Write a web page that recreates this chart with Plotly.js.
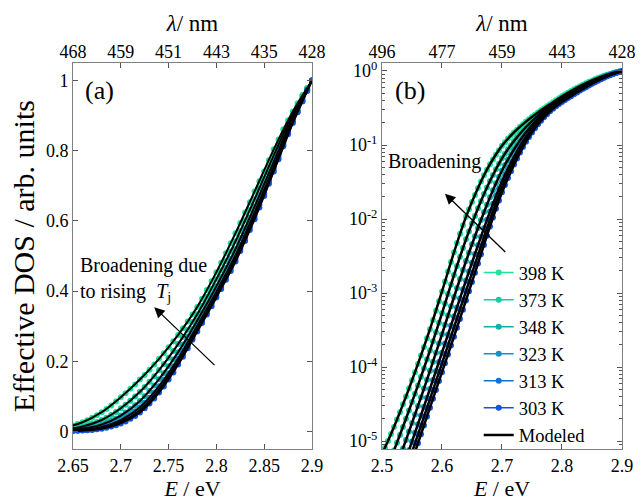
<!DOCTYPE html>
<html><head><meta charset="utf-8">
<script src="https://cdn.plot.ly/plotly-3.0.1.min.js"></script>
<style>html,body{margin:0;padding:0;background:#fff}#chart{width:640px;height:504px}</style>
</head><body><div id="chart"></div>
<script>
// ---- data ----
const energy = [2.500,2.505,2.510,2.515,2.520,2.525,2.530,2.535,2.540,2.545,
2.550,2.555,2.560,2.565,2.570,2.575,2.580,2.585,2.590,2.595,
2.600,2.605,2.610,2.615,2.620,2.625,2.630,2.635,2.640,2.645,
2.650,2.655,2.660,2.665,2.670,2.675,2.680,2.685,2.690,2.695,
2.700,2.705,2.710,2.715,2.720,2.725,2.730,2.735,2.740,2.745,
2.750,2.755,2.760,2.765,2.770,2.775,2.780,2.785,2.790,2.795,
2.800,2.805,2.810,2.815,2.820,2.825,2.830,2.835,2.840,2.845,
2.850,2.855,2.860,2.865,2.870,2.875,2.880,2.885,2.890,2.895,
2.900];

const dos398 = [6.61e-6,8.13e-6,1.00e-5,1.24e-5,1.55e-5,1.95e-5,2.45e-5,3.13e-5,3.98e-5,5.13e-5,
6.61e-5,8.51e-5,1.10e-4,1.43e-4,1.86e-4,2.45e-4,3.24e-4,4.32e-4,5.75e-4,7.76e-4,
1.05e-3,1.43e-3,1.95e-3,2.63e-3,3.55e-3,4.73e-3,6.31e-3,8.22e-3,1.07e-2,1.35e-2,
1.70e-2,2.11e-2,2.63e-2,3.20e-2,3.89e-2,4.62e-2,5.50e-2,6.38e-2,7.41e-2,8.51e-2,
9.77e-2,0.109,0.122,0.134,0.148,0.161,0.176,0.191,0.207,0.223,
0.240,0.257,0.275,0.294,0.313,0.333,0.355,0.378,0.403,0.428,
0.454,0.481,0.508,0.536,0.565,0.594,0.624,0.653,0.684,0.713,
0.741,0.773,0.804,0.832,0.861,0.887,0.912,0.935,0.959,0.979,
1.000];

const dos373 = [null,null,null,5.89e-6,7.43e-6,9.48e-6,1.21e-5,1.55e-5,2.00e-5,2.59e-5,
3.36e-5,4.35e-5,5.64e-5,7.36e-5,9.64e-5,1.27e-4,1.67e-4,2.22e-4,2.96e-4,3.96e-4,
5.32e-4,7.19e-4,9.72e-4,1.30e-3,1.75e-3,2.32e-3,3.08e-3,4.05e-3,5.31e-3,6.79e-3,
8.67e-3,1.10e-2,1.40e-2,1.74e-2,2.17e-2,2.66e-2,3.26e-2,3.92e-2,4.71e-2,5.57e-2,
6.61e-2,7.60e-2,8.75e-2,9.95e-2,0.113,0.127,0.142,0.157,0.175,0.192,
0.210,0.229,0.249,0.269,0.290,0.312,0.334,0.358,0.383,0.407,
0.434,0.459,0.486,0.513,0.542,0.571,0.601,0.631,0.662,0.692,
0.721,0.753,0.787,0.817,0.847,0.877,0.904,0.929,0.955,0.977,
1.000];

const dos348 = [null,null,null,null,null,null,6.11e-6,7.93e-6,1.03e-5,1.34e-5,
1.75e-5,2.28e-5,2.97e-5,3.90e-5,5.11e-5,6.73e-5,8.87e-5,1.18e-4,1.56e-4,2.08e-4,
2.77e-4,3.71e-4,4.97e-4,6.62e-4,8.83e-4,1.17e-3,1.55e-3,2.05e-3,2.70e-3,3.50e-3,
4.55e-3,5.86e-3,7.57e-3,9.68e-3,1.24e-2,1.56e-2,1.97e-2,2.45e-2,3.04e-2,3.72e-2,
4.53e-2,5.38e-2,6.37e-2,7.46e-2,8.69e-2,0.100,0.115,0.131,0.149,0.166,
0.186,0.205,0.226,0.248,0.270,0.292,0.316,0.340,0.365,0.389,
0.414,0.440,0.466,0.492,0.520,0.551,0.579,0.610,0.641,0.673,
0.703,0.736,0.769,0.802,0.836,0.865,0.895,0.923,0.948,0.975,
1.000];

const dos323 = [null,null,null,null,null,null,null,null,5.70e-6,7.48e-6,
9.82e-6,1.29e-5,1.69e-5,2.22e-5,2.91e-5,3.84e-5,5.06e-5,6.70e-5,8.85e-5,1.17e-4,
1.56e-4,2.07e-4,2.75e-4,3.64e-4,4.83e-4,6.38e-4,8.43e-4,1.12e-3,1.48e-3,1.95e-3,
2.56e-3,3.37e-3,4.42e-3,5.75e-3,7.52e-3,9.75e-3,1.26e-2,1.61e-2,2.07e-2,2.59e-2,
3.24e-2,3.95e-2,4.81e-2,5.78e-2,6.90e-2,8.17e-2,9.62e-2,0.111,0.129,0.147,
0.166,0.186,0.208,0.230,0.254,0.277,0.301,0.324,0.349,0.373,
0.398,0.424,0.449,0.475,0.502,0.532,0.561,0.592,0.624,0.656,
0.687,0.721,0.755,0.789,0.824,0.857,0.887,0.916,0.944,0.973,
1.000];

const dos313 = [null,null,null,null,null,null,null,null,null,5.38e-6,
7.08e-6,9.31e-6,1.22e-5,1.61e-5,2.12e-5,2.80e-5,3.69e-5,4.86e-5,6.43e-5,8.49e-5,
1.12e-4,1.49e-4,1.96e-4,2.59e-4,3.43e-4,4.53e-4,5.97e-4,7.94e-4,1.06e-3,1.40e-3,
1.86e-3,2.45e-3,3.25e-3,4.30e-3,5.66e-3,7.46e-3,9.82e-3,1.28e-2,1.66e-2,2.11e-2,
2.69e-2,3.33e-2,4.10e-2,5.00e-2,6.07e-2,7.26e-2,8.67e-2,0.102,0.119,0.136,
0.156,0.176,0.199,0.220,0.244,0.268,0.292,0.316,0.340,0.365,
0.389,0.414,0.440,0.466,0.492,0.522,0.552,0.582,0.614,0.646,
0.679,0.713,0.748,0.782,0.818,0.851,0.883,0.912,0.942,0.971,
1.000];

const dos303 = [null,null,null,null,null,null,null,null,null,null,
5.37e-6,7.08e-6,9.33e-6,1.23e-5,1.62e-5,2.14e-5,2.82e-5,3.72e-5,4.90e-5,6.46e-5,
8.51e-5,1.12e-4,1.48e-4,1.95e-4,2.57e-4,3.39e-4,4.47e-4,5.96e-4,7.94e-4,1.06e-3,
1.41e-3,1.88e-3,2.51e-3,3.35e-3,4.47e-3,5.96e-3,7.94e-3,1.05e-2,1.38e-2,1.78e-2,
2.29e-2,2.87e-2,3.59e-2,4.43e-2,5.43e-2,6.58e-2,7.94e-2,9.40e-2,0.111,0.128,
0.148,0.168,0.191,0.213,0.237,0.261,0.285,0.309,0.333,0.357,
0.382,0.406,0.432,0.457,0.484,0.514,0.543,0.574,0.605,0.638,
0.671,0.706,0.741,0.776,0.813,0.847,0.879,0.910,0.940,0.970,
1.000];

const energyModel = [2.50,2.52,2.54,2.56,2.58,2.60,2.62,2.64,2.66,2.68,2.70,
2.72,2.74,2.76,2.78,2.80,2.82,2.84,2.86,2.88,2.90];
const model398 = [6.61e-6,1.55e-5,3.98e-5,1.10e-4,3.24e-4,1.05e-3,3.55e-3,1.07e-2,2.63e-2,5.50e-2,9.77e-2,0.148,0.207,0.275,0.355,0.454,0.565,0.684,0.804,0.912,1];
const model373 = [null,7.43e-6,2.00e-5,5.64e-5,1.67e-4,5.32e-4,1.75e-3,5.31e-3,1.40e-2,3.26e-2,6.61e-2,0.113,0.175,0.249,0.334,0.434,0.542,0.662,0.787,0.904,1];
const model348 = [null,3.67e-6,1.03e-5,2.97e-5,8.87e-5,2.77e-4,8.83e-4,2.70e-3,7.57e-3,1.97e-2,4.53e-2,8.69e-2,0.149,0.226,0.316,0.414,0.520,0.641,0.769,0.895,1];
const model323 = [null,null,5.70e-6,1.69e-5,5.06e-5,1.56e-4,4.83e-4,1.48e-3,4.42e-3,1.26e-2,3.24e-2,6.90e-2,0.129,0.208,0.301,0.398,0.502,0.624,0.755,0.887,1];
const model313 = [null,null,4.09e-6,1.22e-5,3.69e-5,1.12e-4,3.43e-4,1.06e-3,3.25e-3,9.82e-3,2.69e-2,6.07e-2,0.119,0.199,0.292,0.389,0.492,0.614,0.748,0.883,1];
const model303 = [null,null,3.09e-6,9.33e-6,2.82e-5,8.51e-5,2.57e-4,7.94e-4,2.51e-3,7.94e-3,2.29e-2,5.43e-2,0.111,0.191,0.285,0.382,0.484,0.605,0.741,0.879,1];

const seriesNames = ['398 K','373 K','348 K','323 K','313 K','303 K'];
const modelName = 'Modeled';

const ticksEA = [2.65,2.7,2.75,2.8,2.85,2.9];
const tickTextEA = ['2.65','2.7','2.75','2.8','2.85','2.9'];
const tickTextLambdaA = ['468','459','451','443','435','428'];
const ticksEB = [2.5,2.6,2.7,2.8,2.9];
const tickTextEB = ['2.5','2.6','2.7','2.8','2.9'];
const tickTextLambdaB = ['496','477','459','443','428'];
const ticksYA = [0,0.2,0.4,0.6,0.8,1];
const tickTextYA = ['0','0.2','0.4','0.6','0.8','1'];
const ticksYB = [1e-5,1e-4,1e-3,1e-2,1e-1,1];
const tickTextYB = ['10<sup>-5</sup>','10<sup>-4</sup>','10<sup>-3</sup>','10<sup>-2</sup>','10<sup>-1</sup>','10<sup>0</sup>'];

// ---- style ----
const measured = [dos398,dos373,dos348,dos323,dos313,dos303];
const modeled = [model398,model373,model348,model323,model313,model303];
const colors = ['#1fe39a','#14cda2','#12b0aa','#1591c2','#1672d2','#1553e2'];
const FONT = 'Liberation Serif';

const traces = [];
measured.forEach((ys,k)=>{
  traces.push({x:energy,y:ys,xaxis:'x',yaxis:'y',mode:'lines+markers',
    line:{color:colors[k],width:1.5},marker:{color:colors[k],size:6},
    showlegend:false,hoverinfo:'skip',cliponaxis:true});
});
measured.forEach((ys,k)=>{
  traces.push({x:energy,y:ys,xaxis:'x2',yaxis:'y2',mode:'lines+markers',name:seriesNames[k],
    line:{color:colors[k],width:1.5},marker:{color:colors[k],size:6},
    showlegend:true,hoverinfo:'skip',cliponaxis:true});
});
modeled.forEach((ys,k)=>{
  traces.push({x:energyModel,y:ys,xaxis:'x',yaxis:'y',mode:'lines',
    line:{color:'#000',width:2,shape:'spline',smoothing:0.8},showlegend:false,hoverinfo:'skip'});
});
modeled.forEach((ys,k)=>{
  traces.push({x:energyModel,y:ys,xaxis:'x2',yaxis:'y2',mode:'lines',name:modelName,
    legendgroup:'model',line:{color:'#000',width:2.5,shape:'spline',smoothing:0.8},
    showlegend:k===0,hoverinfo:'skip'});
});
traces.push(traces.splice(18,1)[0]);
traces.push({x:[ticksEA[0]],y:[null],xaxis:'x3',yaxis:'y',mode:'markers',showlegend:false,hoverinfo:'skip'});
traces.push({x:[ticksEB[0]],y:[null],xaxis:'x4',yaxis:'y2',mode:'markers',showlegend:false,hoverinfo:'skip'});

const minorVals = [];
for (let d=-6; d<=0; d++) for (let m=2; m<=9; m++) minorVals.push(m*Math.pow(10,d));

const axCommon = {showline:true,linecolor:'#808080',linewidth:1,ticks:'inside',ticklen:5,
  tickcolor:'#555',tickwidth:1,showgrid:false,zeroline:false,
  tickfont:{family:FONT,size:18,color:'#000'},tickmode:'array'};

const layout = {
  width:640,height:504,paper_bgcolor:'#fff',plot_bgcolor:'#fff',
  margin:{l:73,r:18,t:63,b:55},
  font:{family:FONT,color:'#000'},
  xaxis:Object.assign({},axCommon,{domain:[0,0.4353],range:[2.65,2.9],anchor:'y',mirror:'ticks',
    tickvals:ticksEA,ticktext:tickTextEA,
    title:{text:'<i>E</i> / eV',font:{family:FONT,size:22},standoff:2}}),
  yaxis:Object.assign({},axCommon,{domain:[0,1],range:[-0.05,1.05],anchor:'x',mirror:'ticks',
    tickvals:ticksYA,ticktext:tickTextYA,
    title:{text:'Effective DOS / arb. units',font:{family:FONT,size:30},standoff:2}}),
  xaxis2:Object.assign({},axCommon,{domain:[0.5628,1],range:[2.5,2.9],anchor:'y2',mirror:'ticks',
    tickvals:ticksEB,ticktext:tickTextEB,
    title:{text:'<i>E</i> / eV',font:{family:FONT,size:22},standoff:2}}),
  yaxis2:Object.assign({},axCommon,{domain:[0,1],type:'log',range:[-5.108,0.108],anchor:'x2',mirror:'ticks',
    tickvals:ticksYB,ticktext:tickTextYB,
    minor:{tickmode:'array',tickvals:minorVals,ticks:'inside',ticklen:3,tickcolor:'#555'}}),
  xaxis3:{overlaying:'x',side:'top',anchor:'y',range:[2.65,2.9],tickmode:'array',
    tickvals:ticksEA,ticktext:tickTextLambdaA,ticks:'',showline:false,showgrid:false,zeroline:false,
    tickfont:{family:FONT,size:18,color:'#000'},
    title:{text:'<i>λ</i>/ nm',font:{family:FONT,size:23},standoff:4}},
  xaxis4:{overlaying:'x2',side:'top',anchor:'y2',range:[2.5,2.9],tickmode:'array',
    tickvals:ticksEB,ticktext:tickTextLambdaB,ticks:'',showline:false,showgrid:false,zeroline:false,
    tickfont:{family:FONT,size:18,color:'#000'},
    title:{text:'<i>λ</i>/ nm',font:{family:FONT,size:23},standoff:4}},
  legend:{x:0.739,y:0.505,xanchor:'left',yanchor:'top',bgcolor:'rgba(255,255,255,0)',
    font:{family:FONT,size:18.5,color:'#000'},tracegroupgap:0,itemwidth:30},
  annotations:[
    {xref:'x',yref:'y',x:2.6605,y:0.971,xanchor:'left',yanchor:'middle',showarrow:false,
      text:'(a)',font:{family:FONT,size:26}},
    {xref:'x2',yref:'y2',x:2.518,y:-0.27,xanchor:'left',yanchor:'middle',showarrow:false,
      text:'(b)',font:{family:FONT,size:26}},
    {xref:'x',yref:'y',x:2.655,y:0.51,xanchor:'left',yanchor:'top',align:'left',showarrow:false,
      text:'Broadening due<br>to rising  <i>T</i><sub>j</sub>',font:{family:FONT,size:20}},
    {xref:'x2',yref:'y2',x:2.5067,y:-1.226,xanchor:'left',yanchor:'middle',showarrow:false,
      text:'Broadening',font:{family:FONT,size:20}},
    {xref:'x',yref:'y',axref:'x',ayref:'y',x:2.735,y:0.354,ax:2.7996,ay:0.185,text:'',
      showarrow:true,arrowhead:2,arrowsize:1.6,arrowwidth:1.3,arrowcolor:'#000'},
    {xref:'x2',yref:'y2',axref:'x2',ayref:'y2',x:2.605,y:-1.658,ax:2.708,ay:-2.466,text:'',
      showarrow:true,arrowhead:2,arrowsize:1.6,arrowwidth:1.3,arrowcolor:'#000'}
  ]
};

Plotly.newPlot('chart',traces,layout,{displayModeBar:false,staticPlot:true});
</script></body></html>
